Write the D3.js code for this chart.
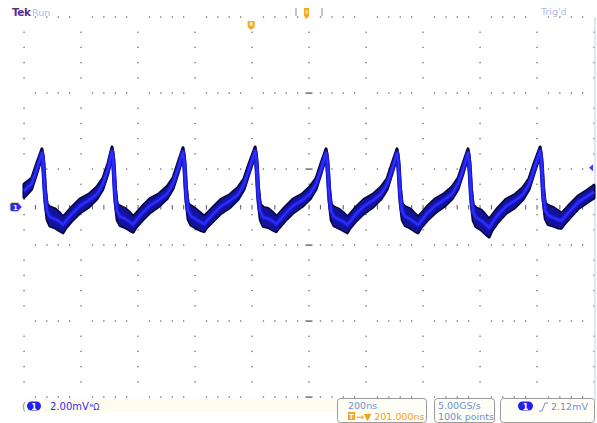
<!DOCTYPE html>
<html>
<head>
<meta charset="utf-8">
<script src="https://cdn.jsdelivr.net/npm/d3@7"></script>
<style>
  body { margin: 0; background: #fff; }
  text { font-family: "DejaVu Sans", sans-serif; }
</style>
</head>
<body>
<div id="scope"></div>
<script>
// screen: 10 div x 200ns, vertical 2.00mV/div, centre = 0 mV
var timeRange = [0, 2000],
    mvRange = [-5, 5],
    majorTimes = [0, 200, 400, 600, 800, 1000, 1200, 1400, 1600, 1800, 2000],
    majorMv = [-5, -3, -1, 1, 3, 5];

// CH1 trace: time (ns), centre / top / bottom of the band (mV)
var waveTime = [0, 27, 45,
  63, 68, 74, 81, 91, 109, 126, 137, 147, 168, 196, 228, 256, 277, 295,
  309, 314, 320, 327, 337, 355, 372, 383, 393, 414, 442, 474, 502, 523, 541,
  558, 563, 569, 576, 586, 604, 621, 632, 642, 663, 691, 723, 751, 772, 790,
  811, 816, 822, 829, 839, 857, 874, 885, 895, 916, 944, 976, 1004, 1025, 1043,
  1060, 1065, 1071, 1078, 1088, 1106, 1123, 1134, 1144, 1165, 1193, 1225, 1253, 1274, 1292,
  1309, 1314, 1320, 1327, 1337, 1355, 1372, 1383, 1393, 1414, 1442, 1474, 1502, 1523, 1541,
  1558, 1563, 1569, 1576, 1586, 1604, 1621, 1632, 1642, 1663, 1691, 1723, 1751, 1772, 1790,
  1811, 1816, 1822, 1829, 1839, 1857, 1874, 1885, 1895, 1916, 1944, 1976, 2000];
var waveMid = [0.42, 0.61, 1.00,
  1.42, 1.11, 0.32, -0.11, -0.26, -0.32, -0.39, -0.47, -0.37, -0.18, 0.03, 0.18, 0.34, 0.61, 1.00,
  1.47, 1.14, 0.30, -0.12, -0.25, -0.31, -0.40, -0.46, -0.36, -0.17, 0.04, 0.19, 0.35, 0.62, 1.02,
  1.45, 1.12, 0.33, -0.10, -0.24, -0.33, -0.40, -0.45, -0.36, -0.19, 0.02, 0.17, 0.33, 0.60, 0.99,
  1.47, 1.13, 0.31, -0.11, -0.27, -0.31, -0.38, -0.45, -0.37, -0.18, 0.03, 0.18, 0.35, 0.61, 1.01,
  1.42, 1.10, 0.32, -0.12, -0.26, -0.33, -0.40, -0.47, -0.38, -0.18, 0.02, 0.18, 0.34, 0.60, 1.00,
  1.42, 1.11, 0.31, -0.11, -0.25, -0.32, -0.41, -0.47, -0.37, -0.17, 0.03, 0.19, 0.34, 0.61, 1.00,
  1.42, 1.10, 0.30, -0.13, -0.28, -0.36, -0.46, -0.55, -0.42, -0.20, 0.02, 0.17, 0.33, 0.60, 1.00,
  1.47, 1.14, 0.33, -0.09, -0.22, -0.28, -0.33, -0.36, -0.28, -0.10, 0.12, 0.28, 0.40];
var waveHi = [0.60, 0.76, 1.16,
  1.53, 1.29, 0.55, 0.08, 0.00, -0.05, -0.16, -0.26, -0.18, 0.00, 0.21, 0.34, 0.53, 0.76, 1.16,
  1.58, 1.32, 0.53, 0.07, 0.02, -0.04, -0.15, -0.25, -0.17, 0.01, 0.22, 0.35, 0.54, 0.77, 1.18,
  1.56, 1.30, 0.56, 0.09, 0.03, -0.06, -0.17, -0.24, -0.17, -0.01, 0.20, 0.33, 0.52, 0.75, 1.15,
  1.58, 1.31, 0.54, 0.08, -0.01, -0.04, -0.15, -0.24, -0.18, 0.00, 0.21, 0.34, 0.54, 0.76, 1.17,
  1.53, 1.28, 0.55, 0.07, 0.00, -0.06, -0.17, -0.26, -0.19, 0.00, 0.20, 0.34, 0.53, 0.75, 1.16,
  1.53, 1.29, 0.54, 0.08, 0.01, -0.05, -0.18, -0.26, -0.18, 0.01, 0.21, 0.35, 0.53, 0.76, 1.16,
  1.53, 1.28, 0.53, 0.06, -0.02, -0.08, -0.22, -0.32, -0.22, -0.02, 0.20, 0.33, 0.52, 0.75, 1.16,
  1.58, 1.32, 0.56, 0.10, 0.04, -0.01, -0.10, -0.16, -0.10, 0.08, 0.29, 0.44, 0.57];
var waveLo = [0.25, 0.47, 0.89,
  1.32, 0.92, 0.11, -0.34, -0.50, -0.55, -0.63, -0.68, -0.55, -0.37, -0.16, 0.00, 0.21, 0.47, 0.89,
  1.36, 0.95, 0.10, -0.35, -0.49, -0.54, -0.62, -0.66, -0.54, -0.36, -0.15, 0.02, 0.22, 0.48, 0.90,
  1.34, 0.93, 0.12, -0.33, -0.48, -0.56, -0.62, -0.65, -0.54, -0.38, -0.17, -0.01, 0.20, 0.46, 0.88,
  1.36, 0.94, 0.10, -0.34, -0.51, -0.54, -0.61, -0.65, -0.55, -0.37, -0.16, 0.01, 0.21, 0.47, 0.90,
  1.32, 0.91, 0.11, -0.35, -0.50, -0.56, -0.63, -0.68, -0.56, -0.37, -0.17, 0.00, 0.21, 0.46, 0.89,
  1.32, 0.92, 0.10, -0.34, -0.49, -0.55, -0.64, -0.68, -0.55, -0.36, -0.16, 0.01, 0.21, 0.47, 0.89,
  1.32, 0.91, 0.09, -0.36, -0.52, -0.60, -0.72, -0.79, -0.62, -0.40, -0.17, -0.01, 0.20, 0.46, 0.89,
  1.36, 0.95, 0.12, -0.32, -0.46, -0.50, -0.55, -0.56, -0.46, -0.28, -0.05, 0.12, 0.24];

var triggerTime = 797,     // orange T marker at top
    triggerLevel = 1.03,   // blue arrow at right edge
    groundLevel = 0;

var labels = {
  scale: '2.00mV',
  timebase: '200ns',
  delay: '201.000ns',
  rate: '5.00GS/s',
  points: '100k points',
  trigLevel: '2.12mV'
};

function drawScope() {
  var W = 597, H = 423;
  var svg = d3.select('#scope').append('svg')
    .attr('width', W).attr('height', H);

  var x = d3.scaleLinear().domain(timeRange).range([24, 594]),
      y = d3.scaleLinear().domain(mvRange).range([397, 17]);

  // bottom cream strip
  svg.append('rect').attr('x', 24).attr('y', 399).attr('width', 313).attr('height', 13)
    .attr('fill', '#fffcef');

  var grid = svg.append('g').attr('fill', '#666');
  var minorX = d3.range(timeRange[0], timeRange[1] + 1, 40),
      minorY = d3.range(mvRange[0], mvRange[1] + 0.001, 0.4);

  // dotted rows
  majorMv.forEach(function(v) {
    grid.selectAll(null).data(minorX.filter(function(t) { return t % 200 !== 0; }))
      .enter().append('rect')
      .attr('x', function(t) { return x(t) - 0.6; })
      .attr('y', y(v) - 0.6)
      .attr('width', 1.3).attr('height', 1.3);
  });
  // dotted columns
  majorTimes.forEach(function(t) {
    grid.selectAll(null).data(minorY.filter(function(v) {
        return !majorMv.some(function(m) { return Math.abs(m - v) < 0.01; });
      }))
      .enter().append('rect')
      .attr('x', x(t) - 0.6)
      .attr('y', function(v) { return y(v) - 0.6; })
      .attr('width', 1.3).attr('height', 1.3);
  });
  // centre horizontal axis ticks
  grid.selectAll(null).data(minorX.slice(1, -1)).enter().append('rect')
    .attr('x', function(t) { return x(t) - 0.5; })
    .attr('y', y(0) - 2)
    .attr('width', 1.1).attr('height', 4.5);
  // centre vertical axis dashes at rows
  grid.selectAll(null).data(majorMv.slice(1, -1)).enter().append('rect')
    .attr('x', x(1000) - 3.5)
    .attr('y', function(v) { return y(v) - 0.6; })
    .attr('width', 7).attr('height', 1.4);
  grid.append('rect').attr('x', x(1000) - 3.5).attr('y', y(-5) - 0.6)
    .attr('width', 7).attr('height', 1.4);

  // right edge line
  svg.append('line').attr('x1', 595).attr('x2', 595).attr('y1', 17).attr('y2', 400)
    .attr('stroke', '#c9d6f2').attr('stroke-width', 1.2);

  // waveform
  var pts = waveTime.map(function(t, i) {
    return { t: t, mid: waveMid[i], hi: waveHi[i], lo: waveLo[i] };
  });
  var band = d3.area()
    .x(function(d) { return x(d.t); })
    .y0(function(d) { return y(d.lo); })
    .y1(function(d) { return y(d.hi); });
  var line = d3.line()
    .x(function(d) { return x(d.t); })
    .y(function(d) { return y(d.mid); });

  svg.append('path').datum(pts).attr('d', band)
    .attr('fill', '#13139a').attr('stroke', '#05053c').attr('stroke-width', 3)
    .attr('stroke-linejoin', 'round');
  svg.append('path').datum(pts).attr('d', band)
    .attr('fill', '#13139a').attr('stroke', 'none');
  svg.append('path').datum(pts).attr('d', line)
    .attr('fill', 'none').attr('stroke', '#1a1ad0').attr('stroke-width', 4.5)
    .attr('stroke-linejoin', 'round');
  svg.append('path').datum(pts).attr('d', line)
    .attr('fill', 'none').attr('stroke', '#2e2eff').attr('stroke-width', 2)
    .attr('stroke-linejoin', 'round');

  // ground marker (left)
  var gy = y(groundLevel);
  svg.append('path')
    .attr('d', 'M12,' + (gy - 4.5) + 'h6l4,4.5l-4,4.5h-6a2,2 0 0 1 -2,-2v-5a2,2 0 0 1 2,-2z')
    .attr('fill', '#2a2af5').attr('stroke', '#e6d68a').attr('stroke-width', 1);
  svg.append('text').attr('x', 15.5).attr('y', gy + 3).attr('fill', '#fff')
    .attr('font-size', 7).attr('font-weight', 'bold').attr('text-anchor', 'middle').text('1');

  // trigger level marker (right)
  var ty = y(triggerLevel);
  svg.append('path').attr('d', 'M589,' + ty + 'l4,-3.5v7z').attr('fill', '#3a3aff');

  // trigger position marker (top)
  var tx = x(triggerTime);
  svg.append('path')
    .attr('d', 'M' + (tx - 3.5) + ',21h7v6l-3.5,3l-3.5,-3z')
    .attr('fill', '#f5a623');
  svg.append('rect').attr('x', tx - 1.5).attr('y', 22).attr('width', 3).attr('height', 4)
    .attr('fill', '#fde2a8');

  // top labels
  svg.append('text').attr('x', 12).attr('y', 16).attr('fill', '#5b2c91')
    .attr('font-size', 10.5).attr('font-weight', 'bold').attr('letter-spacing', -0.5).text('Tek');
  svg.append('text').attr('x', 32).attr('y', 16).attr('fill', '#a9bce6')
    .attr('font-size', 9.5).text('Run');
  svg.append('text').attr('x', 541).attr('y', 15).attr('fill', '#a9bce6')
    .attr('font-size', 9.5).text("Trig'd");

  // record view bar
  svg.append('line').attr('x1', 296).attr('x2', 296).attr('y1', 8).attr('y2', 16)
    .attr('stroke', '#888').attr('stroke-width', 1);
  svg.append('line').attr('x1', 322).attr('x2', 322).attr('y1', 8).attr('y2', 16)
    .attr('stroke', '#888').attr('stroke-width', 1);
  svg.append('path').attr('d', 'M304,8h5v8l-2.5,3l-2.5,-3z').attr('fill', '#f5a623');
  svg.append('rect').attr('x', 305.5).attr('y', 10).attr('width', 2).attr('height', 4)
    .attr('fill', '#fde2a8');

  // bottom: channel readout
  svg.append('text').attr('x', 22).attr('y', 410).attr('fill', '#888')
    .attr('font-size', 10).text('(');
  svg.append('rect').attr('x', 27).attr('y', 401.5).attr('width', 14).attr('height', 9)
    .attr('rx', 4.5).attr('fill', '#1f1ff0');
  svg.append('text').attr('x', 34).attr('y', 409.5).attr('fill', '#fff')
    .attr('font-size', 8).attr('font-weight', 'bold').attr('text-anchor', 'middle').text('1');
  var ch = svg.append('text').attr('x', 50).attr('y', 410).attr('fill', '#2f2ff0')
    .attr('font-size', 10).text(labels.scale);
  ch.append('tspan').attr('font-size', 8).attr('dx', 1).text('ᴮΩ');

  // bottom boxes
  var box = svg.append('g').attr('fill', '#fffef6').attr('stroke', '#9a9a9a').attr('stroke-width', 1);
  box.append('rect').attr('x', 337.5).attr('y', 398.5).attr('width', 89).attr('height', 24).attr('rx', 3);
  box.append('rect').attr('x', 434.5).attr('y', 398.5).attr('width', 60).attr('height', 24).attr('rx', 3);
  box.append('rect').attr('x', 500.5).attr('y', 398.5).attr('width', 94).attr('height', 24).attr('rx', 3);

  svg.append('text').attr('x', 348).attr('y', 409).attr('fill', '#6e8fd6')
    .attr('font-size', 9.5).text(labels.timebase);
  svg.append('rect').attr('x', 348).attr('y', 412).attr('width', 7).attr('height', 8)
    .attr('fill', '#f5a623');
  svg.append('text').attr('x', 351.5).attr('y', 419).attr('fill', '#fff')
    .attr('font-size', 7).attr('font-weight', 'bold').attr('text-anchor', 'middle').text('T');
  svg.append('text').attr('x', 356).attr('y', 420).attr('fill', '#f0a020')
    .attr('font-size', 9.5).text('→▼ ' + labels.delay);

  svg.append('text').attr('x', 438).attr('y', 409).attr('fill', '#6e8fd6')
    .attr('font-size', 9.5).text(labels.rate);
  svg.append('text').attr('x', 438).attr('y', 420).attr('fill', '#6e8fd6')
    .attr('font-size', 9.5).text(labels.points);

  svg.append('rect').attr('x', 518).attr('y', 401.5).attr('width', 15).attr('height', 9)
    .attr('rx', 4.5).attr('fill', '#1f1ff0');
  svg.append('text').attr('x', 525.5).attr('y', 409.5).attr('fill', '#fff')
    .attr('font-size', 8).attr('font-weight', 'bold').attr('text-anchor', 'middle').text('1');
  svg.append('path').attr('d', 'M539,411h3l3,-8h3').attr('fill', 'none')
    .attr('stroke', '#6e8fd6').attr('stroke-width', 1);
  svg.append('text').attr('x', 551).attr('y', 410).attr('fill', '#6e8fd6')
    .attr('font-size', 9.5).text(labels.trigLevel);
}

drawScope();
</script>
</body>
</html>
